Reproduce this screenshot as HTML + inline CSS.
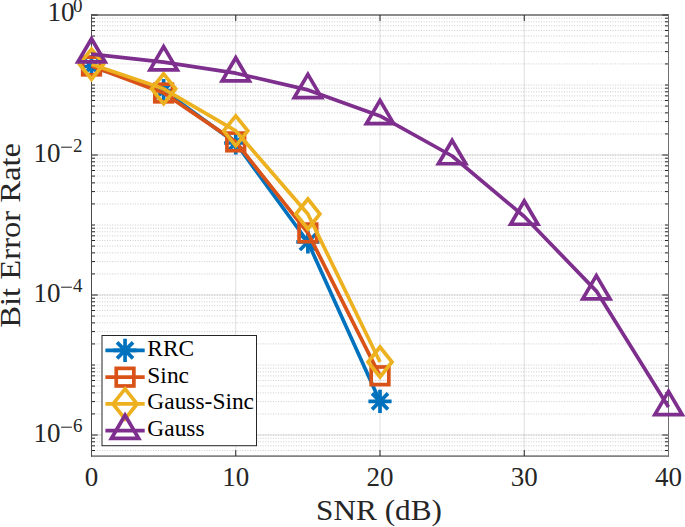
<!DOCTYPE html><html><head><meta charset="utf-8"><style>html,body{margin:0;padding:0;background:#fff;}svg{display:block;}text{font-family:"Liberation Serif",serif;fill:#262626;}</style></head><body>
<svg width="685" height="527" viewBox="0 0 685 527">
<rect x="0" y="0" width="685" height="527" fill="#fff"/>
<g stroke="#cdcdcd" stroke-width="1" stroke-dasharray="1 1.553" stroke-dashoffset="2.365">
<line x1="91.5" y1="18.2" x2="668.5" y2="18.2"/>
<line x1="91.5" y1="21.78" x2="668.5" y2="21.78"/>
<line x1="91.5" y1="25.84" x2="668.5" y2="25.84"/>
<line x1="91.5" y1="30.53" x2="668.5" y2="30.53"/>
<line x1="91.5" y1="36.07" x2="668.5" y2="36.07"/>
<line x1="91.5" y1="42.86" x2="668.5" y2="42.86"/>
<line x1="91.5" y1="51.6" x2="668.5" y2="51.6"/>
<line x1="91.5" y1="63.93" x2="668.5" y2="63.93"/>
<line x1="91.5" y1="85.0" x2="668.5" y2="85.0"/>
<line x1="91.5" y1="88.2" x2="668.5" y2="88.2"/>
<line x1="91.5" y1="91.78" x2="668.5" y2="91.78"/>
<line x1="91.5" y1="95.84" x2="668.5" y2="95.84"/>
<line x1="91.5" y1="100.53" x2="668.5" y2="100.53"/>
<line x1="91.5" y1="106.07" x2="668.5" y2="106.07"/>
<line x1="91.5" y1="112.86" x2="668.5" y2="112.86"/>
<line x1="91.5" y1="121.6" x2="668.5" y2="121.6"/>
<line x1="91.5" y1="133.93" x2="668.5" y2="133.93"/>
<line x1="91.5" y1="158.2" x2="668.5" y2="158.2"/>
<line x1="91.5" y1="161.78" x2="668.5" y2="161.78"/>
<line x1="91.5" y1="165.84" x2="668.5" y2="165.84"/>
<line x1="91.5" y1="170.53" x2="668.5" y2="170.53"/>
<line x1="91.5" y1="176.07" x2="668.5" y2="176.07"/>
<line x1="91.5" y1="182.86" x2="668.5" y2="182.86"/>
<line x1="91.5" y1="191.6" x2="668.5" y2="191.6"/>
<line x1="91.5" y1="203.93" x2="668.5" y2="203.93"/>
<line x1="91.5" y1="225.0" x2="668.5" y2="225.0"/>
<line x1="91.5" y1="228.2" x2="668.5" y2="228.2"/>
<line x1="91.5" y1="231.78" x2="668.5" y2="231.78"/>
<line x1="91.5" y1="235.84" x2="668.5" y2="235.84"/>
<line x1="91.5" y1="240.53" x2="668.5" y2="240.53"/>
<line x1="91.5" y1="246.07" x2="668.5" y2="246.07"/>
<line x1="91.5" y1="252.86" x2="668.5" y2="252.86"/>
<line x1="91.5" y1="261.6" x2="668.5" y2="261.6"/>
<line x1="91.5" y1="273.93" x2="668.5" y2="273.93"/>
<line x1="91.5" y1="298.2" x2="668.5" y2="298.2"/>
<line x1="91.5" y1="301.78" x2="668.5" y2="301.78"/>
<line x1="91.5" y1="305.84" x2="668.5" y2="305.84"/>
<line x1="91.5" y1="310.53" x2="668.5" y2="310.53"/>
<line x1="91.5" y1="316.07" x2="668.5" y2="316.07"/>
<line x1="91.5" y1="322.86" x2="668.5" y2="322.86"/>
<line x1="91.5" y1="331.6" x2="668.5" y2="331.6"/>
<line x1="91.5" y1="343.93" x2="668.5" y2="343.93"/>
<line x1="91.5" y1="365.0" x2="668.5" y2="365.0"/>
<line x1="91.5" y1="368.2" x2="668.5" y2="368.2"/>
<line x1="91.5" y1="371.78" x2="668.5" y2="371.78"/>
<line x1="91.5" y1="375.84" x2="668.5" y2="375.84"/>
<line x1="91.5" y1="380.53" x2="668.5" y2="380.53"/>
<line x1="91.5" y1="386.07" x2="668.5" y2="386.07"/>
<line x1="91.5" y1="392.86" x2="668.5" y2="392.86"/>
<line x1="91.5" y1="401.6" x2="668.5" y2="401.6"/>
<line x1="91.5" y1="413.93" x2="668.5" y2="413.93"/>
<line x1="91.5" y1="438.2" x2="668.5" y2="438.2"/>
<line x1="91.5" y1="441.78" x2="668.5" y2="441.78"/>
<line x1="91.5" y1="445.84" x2="668.5" y2="445.84"/>
<line x1="91.5" y1="450.53" x2="668.5" y2="450.53"/>
<line x1="91.5" y1="155.0" x2="668.5" y2="155.0"/>
<line x1="91.5" y1="295.0" x2="668.5" y2="295.0"/>
<line x1="91.5" y1="435.0" x2="668.5" y2="435.0"/>
</g>
<g stroke="#262626" stroke-opacity="0.15" stroke-width="1">
<line x1="91.5" y1="15.0" x2="668.5" y2="15.0"/>
<line x1="91.5" y1="155.0" x2="668.5" y2="155.0"/>
<line x1="91.5" y1="295.0" x2="668.5" y2="295.0"/>
<line x1="91.5" y1="435.0" x2="668.5" y2="435.0"/>
<line x1="235.75" y1="15.0" x2="235.75" y2="456.07"/>
<line x1="380.0" y1="15.0" x2="380.0" y2="456.07"/>
<line x1="524.25" y1="15.0" x2="524.25" y2="456.07"/>
</g>
<g stroke="#262626" stroke-width="1">
<line x1="91.5" y1="15.0" x2="97.7" y2="15.0"/><line x1="668.5" y1="15.0" x2="662.3" y2="15.0"/>
<line x1="91.5" y1="155.0" x2="97.7" y2="155.0"/><line x1="668.5" y1="155.0" x2="662.3" y2="155.0"/>
<line x1="91.5" y1="295.0" x2="97.7" y2="295.0"/><line x1="668.5" y1="295.0" x2="662.3" y2="295.0"/>
<line x1="91.5" y1="435.0" x2="97.7" y2="435.0"/><line x1="668.5" y1="435.0" x2="662.3" y2="435.0"/>
<line x1="91.5" y1="18.2" x2="95.0" y2="18.2"/><line x1="668.5" y1="18.2" x2="665.0" y2="18.2"/>
<line x1="91.5" y1="21.78" x2="95.0" y2="21.78"/><line x1="668.5" y1="21.78" x2="665.0" y2="21.78"/>
<line x1="91.5" y1="25.84" x2="95.0" y2="25.84"/><line x1="668.5" y1="25.84" x2="665.0" y2="25.84"/>
<line x1="91.5" y1="30.53" x2="95.0" y2="30.53"/><line x1="668.5" y1="30.53" x2="665.0" y2="30.53"/>
<line x1="91.5" y1="36.07" x2="95.0" y2="36.07"/><line x1="668.5" y1="36.07" x2="665.0" y2="36.07"/>
<line x1="91.5" y1="42.86" x2="95.0" y2="42.86"/><line x1="668.5" y1="42.86" x2="665.0" y2="42.86"/>
<line x1="91.5" y1="51.6" x2="95.0" y2="51.6"/><line x1="668.5" y1="51.6" x2="665.0" y2="51.6"/>
<line x1="91.5" y1="63.93" x2="95.0" y2="63.93"/><line x1="668.5" y1="63.93" x2="665.0" y2="63.93"/>
<line x1="91.5" y1="85.0" x2="95.0" y2="85.0"/><line x1="668.5" y1="85.0" x2="665.0" y2="85.0"/>
<line x1="91.5" y1="88.2" x2="95.0" y2="88.2"/><line x1="668.5" y1="88.2" x2="665.0" y2="88.2"/>
<line x1="91.5" y1="91.78" x2="95.0" y2="91.78"/><line x1="668.5" y1="91.78" x2="665.0" y2="91.78"/>
<line x1="91.5" y1="95.84" x2="95.0" y2="95.84"/><line x1="668.5" y1="95.84" x2="665.0" y2="95.84"/>
<line x1="91.5" y1="100.53" x2="95.0" y2="100.53"/><line x1="668.5" y1="100.53" x2="665.0" y2="100.53"/>
<line x1="91.5" y1="106.07" x2="95.0" y2="106.07"/><line x1="668.5" y1="106.07" x2="665.0" y2="106.07"/>
<line x1="91.5" y1="112.86" x2="95.0" y2="112.86"/><line x1="668.5" y1="112.86" x2="665.0" y2="112.86"/>
<line x1="91.5" y1="121.6" x2="95.0" y2="121.6"/><line x1="668.5" y1="121.6" x2="665.0" y2="121.6"/>
<line x1="91.5" y1="133.93" x2="95.0" y2="133.93"/><line x1="668.5" y1="133.93" x2="665.0" y2="133.93"/>
<line x1="91.5" y1="158.2" x2="95.0" y2="158.2"/><line x1="668.5" y1="158.2" x2="665.0" y2="158.2"/>
<line x1="91.5" y1="161.78" x2="95.0" y2="161.78"/><line x1="668.5" y1="161.78" x2="665.0" y2="161.78"/>
<line x1="91.5" y1="165.84" x2="95.0" y2="165.84"/><line x1="668.5" y1="165.84" x2="665.0" y2="165.84"/>
<line x1="91.5" y1="170.53" x2="95.0" y2="170.53"/><line x1="668.5" y1="170.53" x2="665.0" y2="170.53"/>
<line x1="91.5" y1="176.07" x2="95.0" y2="176.07"/><line x1="668.5" y1="176.07" x2="665.0" y2="176.07"/>
<line x1="91.5" y1="182.86" x2="95.0" y2="182.86"/><line x1="668.5" y1="182.86" x2="665.0" y2="182.86"/>
<line x1="91.5" y1="191.6" x2="95.0" y2="191.6"/><line x1="668.5" y1="191.6" x2="665.0" y2="191.6"/>
<line x1="91.5" y1="203.93" x2="95.0" y2="203.93"/><line x1="668.5" y1="203.93" x2="665.0" y2="203.93"/>
<line x1="91.5" y1="225.0" x2="95.0" y2="225.0"/><line x1="668.5" y1="225.0" x2="665.0" y2="225.0"/>
<line x1="91.5" y1="228.2" x2="95.0" y2="228.2"/><line x1="668.5" y1="228.2" x2="665.0" y2="228.2"/>
<line x1="91.5" y1="231.78" x2="95.0" y2="231.78"/><line x1="668.5" y1="231.78" x2="665.0" y2="231.78"/>
<line x1="91.5" y1="235.84" x2="95.0" y2="235.84"/><line x1="668.5" y1="235.84" x2="665.0" y2="235.84"/>
<line x1="91.5" y1="240.53" x2="95.0" y2="240.53"/><line x1="668.5" y1="240.53" x2="665.0" y2="240.53"/>
<line x1="91.5" y1="246.07" x2="95.0" y2="246.07"/><line x1="668.5" y1="246.07" x2="665.0" y2="246.07"/>
<line x1="91.5" y1="252.86" x2="95.0" y2="252.86"/><line x1="668.5" y1="252.86" x2="665.0" y2="252.86"/>
<line x1="91.5" y1="261.6" x2="95.0" y2="261.6"/><line x1="668.5" y1="261.6" x2="665.0" y2="261.6"/>
<line x1="91.5" y1="273.93" x2="95.0" y2="273.93"/><line x1="668.5" y1="273.93" x2="665.0" y2="273.93"/>
<line x1="91.5" y1="298.2" x2="95.0" y2="298.2"/><line x1="668.5" y1="298.2" x2="665.0" y2="298.2"/>
<line x1="91.5" y1="301.78" x2="95.0" y2="301.78"/><line x1="668.5" y1="301.78" x2="665.0" y2="301.78"/>
<line x1="91.5" y1="305.84" x2="95.0" y2="305.84"/><line x1="668.5" y1="305.84" x2="665.0" y2="305.84"/>
<line x1="91.5" y1="310.53" x2="95.0" y2="310.53"/><line x1="668.5" y1="310.53" x2="665.0" y2="310.53"/>
<line x1="91.5" y1="316.07" x2="95.0" y2="316.07"/><line x1="668.5" y1="316.07" x2="665.0" y2="316.07"/>
<line x1="91.5" y1="322.86" x2="95.0" y2="322.86"/><line x1="668.5" y1="322.86" x2="665.0" y2="322.86"/>
<line x1="91.5" y1="331.6" x2="95.0" y2="331.6"/><line x1="668.5" y1="331.6" x2="665.0" y2="331.6"/>
<line x1="91.5" y1="343.93" x2="95.0" y2="343.93"/><line x1="668.5" y1="343.93" x2="665.0" y2="343.93"/>
<line x1="91.5" y1="365.0" x2="95.0" y2="365.0"/><line x1="668.5" y1="365.0" x2="665.0" y2="365.0"/>
<line x1="91.5" y1="368.2" x2="95.0" y2="368.2"/><line x1="668.5" y1="368.2" x2="665.0" y2="368.2"/>
<line x1="91.5" y1="371.78" x2="95.0" y2="371.78"/><line x1="668.5" y1="371.78" x2="665.0" y2="371.78"/>
<line x1="91.5" y1="375.84" x2="95.0" y2="375.84"/><line x1="668.5" y1="375.84" x2="665.0" y2="375.84"/>
<line x1="91.5" y1="380.53" x2="95.0" y2="380.53"/><line x1="668.5" y1="380.53" x2="665.0" y2="380.53"/>
<line x1="91.5" y1="386.07" x2="95.0" y2="386.07"/><line x1="668.5" y1="386.07" x2="665.0" y2="386.07"/>
<line x1="91.5" y1="392.86" x2="95.0" y2="392.86"/><line x1="668.5" y1="392.86" x2="665.0" y2="392.86"/>
<line x1="91.5" y1="401.6" x2="95.0" y2="401.6"/><line x1="668.5" y1="401.6" x2="665.0" y2="401.6"/>
<line x1="91.5" y1="413.93" x2="95.0" y2="413.93"/><line x1="668.5" y1="413.93" x2="665.0" y2="413.93"/>
<line x1="91.5" y1="438.2" x2="95.0" y2="438.2"/><line x1="668.5" y1="438.2" x2="665.0" y2="438.2"/>
<line x1="91.5" y1="441.78" x2="95.0" y2="441.78"/><line x1="668.5" y1="441.78" x2="665.0" y2="441.78"/>
<line x1="91.5" y1="445.84" x2="95.0" y2="445.84"/><line x1="668.5" y1="445.84" x2="665.0" y2="445.84"/>
<line x1="91.5" y1="450.53" x2="95.0" y2="450.53"/><line x1="668.5" y1="450.53" x2="665.0" y2="450.53"/>
<line x1="91.5" y1="456.07" x2="91.5" y2="450.07"/><line x1="91.5" y1="15.0" x2="91.5" y2="21.0"/>
<line x1="235.75" y1="456.07" x2="235.75" y2="450.07"/><line x1="235.75" y1="15.0" x2="235.75" y2="21.0"/>
<line x1="380.0" y1="456.07" x2="380.0" y2="450.07"/><line x1="380.0" y1="15.0" x2="380.0" y2="21.0"/>
<line x1="524.25" y1="456.07" x2="524.25" y2="450.07"/><line x1="524.25" y1="15.0" x2="524.25" y2="21.0"/>
<line x1="668.5" y1="456.07" x2="668.5" y2="450.07"/><line x1="668.5" y1="15.0" x2="668.5" y2="21.0"/>
</g>
<line x1="91.0" y1="15.0" x2="669.0" y2="15.0" stroke="#262626" stroke-width="1"/>
<line x1="91.0" y1="456.07" x2="669.0" y2="456.07" stroke="#262626" stroke-width="1"/>
<line x1="91.5" y1="14.5" x2="91.5" y2="456.57" stroke="#4a4a4a" stroke-width="1"/>
<line x1="668.5" y1="14.5" x2="668.5" y2="456.57" stroke="#707070" stroke-width="1"/>
<polyline points="91.50,66.50 163.62,90.50 235.75,143.00 307.88,242.00 380.00,401.40" fill="none" stroke="#0072BD" stroke-width="3.7" stroke-linejoin="round" stroke-linecap="butt"/>
<path d="M79.9,66.5H103.1M91.5,54.9V78.1M83.5,58.5L99.5,74.5M83.5,74.5L99.5,58.5" stroke="#0072BD" stroke-width="3.7" fill="none" stroke-linecap="butt"/>
<path d="M152.025,90.5H175.225M163.625,78.9V102.1M155.625,82.5L171.625,98.5M155.625,98.5L171.625,82.5" stroke="#0072BD" stroke-width="3.7" fill="none" stroke-linecap="butt"/>
<path d="M224.15,143.0H247.35M235.75,131.4V154.6M227.75,135.0L243.75,151.0M227.75,151.0L243.75,135.0" stroke="#0072BD" stroke-width="3.7" fill="none" stroke-linecap="butt"/>
<path d="M296.275,242.0H319.475M307.875,230.4V253.6M299.875,234.0L315.875,250.0M299.875,250.0L315.875,234.0" stroke="#0072BD" stroke-width="3.7" fill="none" stroke-linecap="butt"/>
<path d="M368.4,401.4H391.6M380.0,389.79999999999995V413.0M372.0,393.4L388.0,409.4M372.0,409.4L388.0,393.4" stroke="#0072BD" stroke-width="3.7" fill="none" stroke-linecap="butt"/>
<polyline points="91.50,66.00 163.62,93.00 235.75,141.90 307.88,232.90 380.00,375.80" fill="none" stroke="#D95319" stroke-width="3.7" stroke-linejoin="round" stroke-linecap="butt"/>
<rect x="82.7" y="57.2" width="17.6" height="17.6" fill="none" stroke="#D95319" stroke-width="3.7"/>
<rect x="154.825" y="84.2" width="17.6" height="17.6" fill="none" stroke="#D95319" stroke-width="3.7"/>
<rect x="226.95" y="133.1" width="17.6" height="17.6" fill="none" stroke="#D95319" stroke-width="3.7"/>
<rect x="299.075" y="224.1" width="17.6" height="17.6" fill="none" stroke="#D95319" stroke-width="3.7"/>
<rect x="371.2" y="367.0" width="17.6" height="17.6" fill="none" stroke="#D95319" stroke-width="3.7"/>
<polyline points="91.50,64.20 163.62,88.80 235.75,130.85 307.88,214.00 380.00,362.00" fill="none" stroke="#EDB120" stroke-width="3.7" stroke-linejoin="round" stroke-linecap="butt"/>
<path d="M91.5,49.2L103.5,64.2L91.5,79.2L79.5,64.2Z" fill="none" stroke="#EDB120" stroke-width="3.7" stroke-linejoin="miter" stroke-miterlimit="10"/>
<path d="M163.625,73.8L175.625,88.8L163.625,103.8L151.625,88.8Z" fill="none" stroke="#EDB120" stroke-width="3.7" stroke-linejoin="miter" stroke-miterlimit="10"/>
<path d="M235.75,115.85L247.75,130.85L235.75,145.85L223.75,130.85Z" fill="none" stroke="#EDB120" stroke-width="3.7" stroke-linejoin="miter" stroke-miterlimit="10"/>
<path d="M307.875,199.0L319.875,214.0L307.875,229.0L295.875,214.0Z" fill="none" stroke="#EDB120" stroke-width="3.7" stroke-linejoin="miter" stroke-miterlimit="10"/>
<path d="M380.0,347.0L392.0,362.0L380.0,377.0L368.0,362.0Z" fill="none" stroke="#EDB120" stroke-width="3.7" stroke-linejoin="miter" stroke-miterlimit="10"/>
<polyline points="91.50,54.20 163.62,62.10 235.75,73.20 307.88,89.90 380.00,115.90 452.12,156.00 524.25,216.50 596.38,291.10 668.50,406.90" fill="none" stroke="#7E2F8E" stroke-width="3.7" stroke-linejoin="round" stroke-linecap="butt"/>
<path d="M91.5,38.7L105.14,61.95L77.86,61.95Z" fill="none" stroke="#7E2F8E" stroke-width="3.7" stroke-linejoin="miter" stroke-miterlimit="10"/>
<path d="M163.625,46.6L177.265,69.85L149.985,69.85Z" fill="none" stroke="#7E2F8E" stroke-width="3.7" stroke-linejoin="miter" stroke-miterlimit="10"/>
<path d="M235.75,57.7L249.39,80.95L222.11,80.95Z" fill="none" stroke="#7E2F8E" stroke-width="3.7" stroke-linejoin="miter" stroke-miterlimit="10"/>
<path d="M307.875,74.4L321.515,97.65L294.235,97.65Z" fill="none" stroke="#7E2F8E" stroke-width="3.7" stroke-linejoin="miter" stroke-miterlimit="10"/>
<path d="M380.0,100.4L393.64,123.65L366.36,123.65Z" fill="none" stroke="#7E2F8E" stroke-width="3.7" stroke-linejoin="miter" stroke-miterlimit="10"/>
<path d="M452.125,140.5L465.765,163.75L438.485,163.75Z" fill="none" stroke="#7E2F8E" stroke-width="3.7" stroke-linejoin="miter" stroke-miterlimit="10"/>
<path d="M524.25,201.0L537.89,224.25L510.61,224.25Z" fill="none" stroke="#7E2F8E" stroke-width="3.7" stroke-linejoin="miter" stroke-miterlimit="10"/>
<path d="M596.375,275.6L610.015,298.85L582.735,298.85Z" fill="none" stroke="#7E2F8E" stroke-width="3.7" stroke-linejoin="miter" stroke-miterlimit="10"/>
<path d="M668.5,391.4L682.14,414.65L654.86,414.65Z" fill="none" stroke="#7E2F8E" stroke-width="3.7" stroke-linejoin="miter" stroke-miterlimit="10"/>
<rect x="102.0" y="335.5" width="154.5" height="110.19999999999999" fill="#fff" stroke="#262626" stroke-width="1"/>
<line x1="105.4" y1="350.4" x2="144.7" y2="350.4" stroke="#0072BD" stroke-width="3.7"/>
<path d="M113.45,350.4H136.65M125.05,338.79999999999995V362.0M117.05,342.4L133.05,358.4M117.05,358.4L133.05,342.4" stroke="#0072BD" stroke-width="3.7" fill="none" stroke-linecap="butt"/>
<text x="0" y="0" font-size="23.2" style="fill:#000" transform="translate(147.354,355.79999999999995) scale(1.01,1)">RRC</text>
<line x1="105.4" y1="377.17" x2="144.7" y2="377.17" stroke="#D95319" stroke-width="3.7"/>
<rect x="116.25" y="368.37" width="17.6" height="17.6" fill="none" stroke="#D95319" stroke-width="3.7"/>
<text x="0" y="0" font-size="23.2" style="fill:#000" transform="translate(147.354,382.57) scale(1.01,1)">Sinc</text>
<line x1="105.4" y1="403.94" x2="144.7" y2="403.94" stroke="#EDB120" stroke-width="3.7"/>
<path d="M125.05,388.94L137.05,403.94L125.05,418.94L113.05,403.94Z" fill="none" stroke="#EDB120" stroke-width="3.7" stroke-linejoin="miter" stroke-miterlimit="10"/>
<text x="0" y="0" font-size="23.2" style="fill:#000" transform="translate(147.354,409.34) scale(1.01,1)">Gauss-Sinc</text>
<line x1="105.4" y1="430.71" x2="144.7" y2="430.71" stroke="#7E2F8E" stroke-width="3.7"/>
<path d="M125.05,415.21L138.69,438.46L111.41,438.46Z" fill="none" stroke="#7E2F8E" stroke-width="3.7" stroke-linejoin="miter" stroke-miterlimit="10"/>
<text x="0" y="0" font-size="23.2" style="fill:#000" transform="translate(147.354,436.10999999999996) scale(1.01,1)">Gauss</text>
<text x="47.4" y="21.3" font-size="27">10</text><text x="73.0" y="12.100000000000001" font-size="19">0</text>
<text x="33.5" y="161.7" font-size="27">10</text><line x1="61.1" y1="147.2" x2="71.9" y2="147.2" stroke="#262626" stroke-width="1.05"/><text x="73.0" y="152.29999999999998" font-size="19">2</text>
<text x="33.5" y="301.7" font-size="27">10</text><line x1="61.1" y1="287.2" x2="71.9" y2="287.2" stroke="#262626" stroke-width="1.05"/><text x="73.0" y="292.3" font-size="19">4</text>
<text x="33.5" y="441.7" font-size="27">10</text><line x1="61.1" y1="427.2" x2="71.9" y2="427.2" stroke="#262626" stroke-width="1.05"/><text x="73.0" y="432.3" font-size="19">6</text>
<text x="91.5" y="486" font-size="27" text-anchor="middle">0</text>
<text x="235.75" y="486" font-size="27" text-anchor="middle">10</text>
<text x="380.0" y="486" font-size="27" text-anchor="middle">20</text>
<text x="524.25" y="486" font-size="27" text-anchor="middle">30</text>
<text x="668.5" y="486" font-size="27" text-anchor="middle">40</text>
<text x="0" y="0" font-size="29.5" text-anchor="middle" transform="translate(379.0,519.7) scale(1.059,1)">SNR (dB)</text>
<text x="0" y="0" font-size="29.5" text-anchor="middle" transform="translate(19.6,235.3) rotate(-90) scale(1.106,1)">Bit Error Rate</text>
</svg></body></html>
